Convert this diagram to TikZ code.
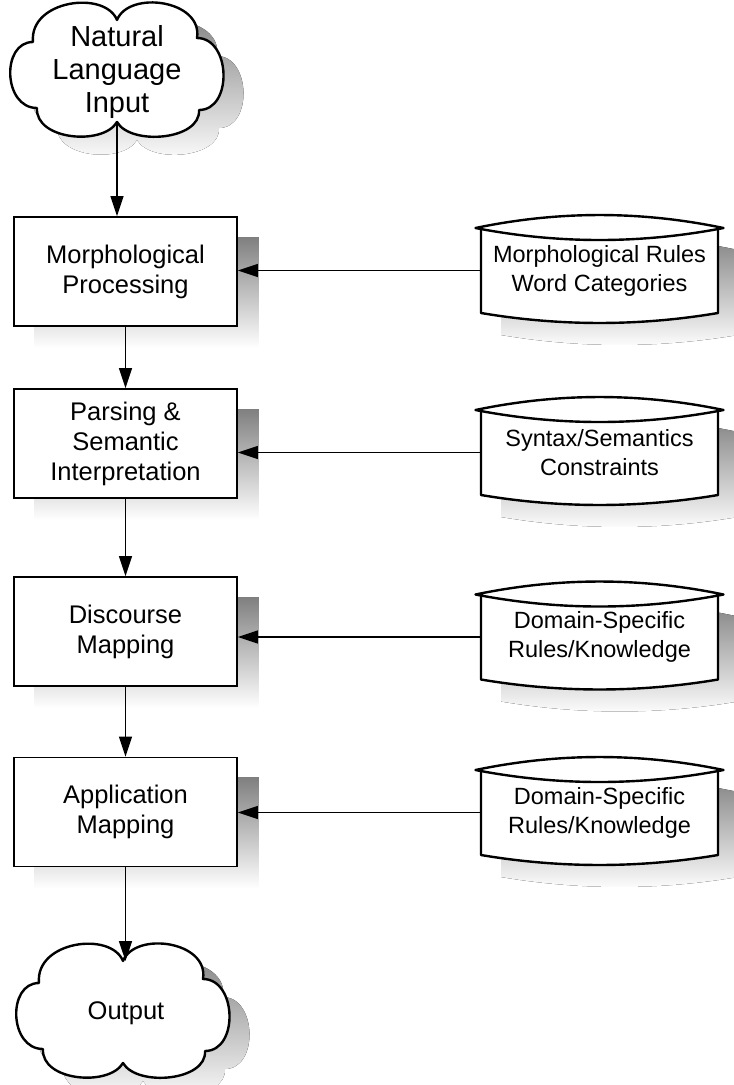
\documentclass[tikz,border=0pt]{standalone}
\usepackage{fontspec}
\setmainfont{Liberation Sans}
\usetikzlibrary{arrows.meta,backgrounds}
\definecolor{shade}{gray}{0.70}

\tikzset{
  procbox/.style={draw, line width=1.8pt, fill=white, minimum width=223pt,
    minimum height=109pt, inner sep=0pt, align=center,
    font=\fontsize{25.5}{30}\selectfont},
  storetext/.style={inner sep=0pt, minimum width=237pt, minimum height=85pt,
    align=center, font=\fontsize{23.5}{29}\selectfont},
  cloudtext/.style={inner sep=0pt, align=center},
  link/.style={line width=1.4pt, -{Triangle[length=20pt,width=13pt]}},
  outline/.style={line width=2.4pt, line join=round},
  % cloud with six puffs, dips at top and bottom centre
  pics/cloudshape/.style={code={
    \fill[shade, shift={(20,18)}]
      (-84,-28) .. controls (-88,-70) and (-12,-80) .. (0,-50)
      .. controls (12,-80) and (86,-70) .. (80,-32)
      .. controls (114,-32) and (116,40) .. (82,40)
      .. controls (84,70) and (14,76) .. (0,52)
      .. controls (-14,76) and (-82,70) .. (-80,38)
      .. controls (-114,38) and (-116,-28) .. (-84,-28) -- cycle;
    \filldraw[fill=white, outline]
      (-84,-28) .. controls (-88,-70) and (-12,-80) .. (0,-50)
      .. controls (12,-80) and (86,-70) .. (80,-32)
      .. controls (114,-32) and (116,40) .. (82,40)
      .. controls (84,70) and (14,76) .. (0,52)
      .. controls (-14,76) and (-82,70) .. (-80,38)
      .. controls (-114,38) and (-116,-28) .. (-84,-28) -- cycle;
    \coordinate (-top) at (0,-50);
    \coordinate (-bot) at (0,52);
  }},
  % data store: lens-shaped top, curved bottom
  pics/storeshape/.style={code={
    \fill[shade, shift={(20,22)}]
      (-118.5,-42.5) .. controls (-40,-59.8) and (40,-59.8) .. (118.5,-42.5)
      -- (118.5,42.5) .. controls (40,55.8) and (-40,55.8) .. (-118.5,42.5) -- cycle;
    \filldraw[fill=white, outline]
      (-118.5,-42.5) -- (-118.5,42.5)
      .. controls (-39.5,55.8) and (39.5,55.8) .. (118.5,42.5) -- (118.5,-42.5);
    \filldraw[fill=white, outline]
      (-124,-42.5) .. controls (-41,-59.8) and (41,-59.8) .. (124,-42.5)
      .. controls (41,-26.5) and (-41,-26.5) .. cycle;
  }},
}

\begin{document}
\begin{tikzpicture}[x=1pt, y=-1pt]
  \useasboundingbox (0,0) rectangle (734,1085);
  \clip (0,0) rectangle (734,1085);
  \begin{scope}[on background layer]
    \fill[white] (0,0) rectangle (734,1085);
  \end{scope}

  % input and output clouds
  \pic (inpc) at (117,70) {cloudshape};
  \node[cloudtext, font=\fontsize{29}{33}\selectfont] (inp) at (117,72)
    {Natural\\Language\\Input};
  \pic (outc) at (123,1011) {cloudshape};
  \node[cloudtext, font=\fontsize{25.5}{30}\selectfont] (out) at (126,1013) {Output};

  % processing stages
  \node[procbox] (m1) at (125.5,271.5) {Morphological\\Processing};
  \node[procbox] (m2) at (125.5,443.5) {Parsing \&\\Semantic\\Interpretation};
  \node[procbox] (m3) at (125.5,631.5) {Discourse\\Mapping};
  \node[procbox] (m4) at (125.5,812) {Application\\Mapping};

  \begin{scope}[on background layer]
    \foreach \b in {m1,m2,m3,m4}
      \fill[shade] ([shift={(21,21)}]\b.north west) rectangle ([shift={(21,21)}]\b.south east);
  \end{scope}

  % knowledge stores
  \pic at (599.5,270.5) {storeshape};
  \node[storetext] (r1) at (599.5,270.5) {Morphological Rules\\Word Categories};
  \pic at (599.5,452.5) {storeshape};
  \node[storetext] (r2) at (599.5,452.5) {Syntax/Semantics\\Constraints};
  \pic at (599.5,637) {storeshape};
  \node[storetext] (r3) at (599.5,637) {Domain-Specific\\Rules/Knowledge};
  \pic at (599.5,812.5) {storeshape};
  \node[storetext] (r4) at (599.5,812.5) {Domain-Specific\\Rules/Knowledge};

  % main flow
  \draw[link] (inpc-bot) -- (inpc-bot |- m1.north);
  \draw[link] (m1.south) -- (m2.north);
  \draw[link] (m2.south) -- (m3.north);
  \draw[link] (m3.south) -- (m4.north);
  \draw[link] (m4.south) -- (m4.south |- outc-top);

  % store inputs
  \foreach \r/\m in {r1/m1,r2/m2,r3/m3,r4/m4}
    \draw[link] (\r.west) -- (\r.west -| \m.east);
\end{tikzpicture}
\end{document}
